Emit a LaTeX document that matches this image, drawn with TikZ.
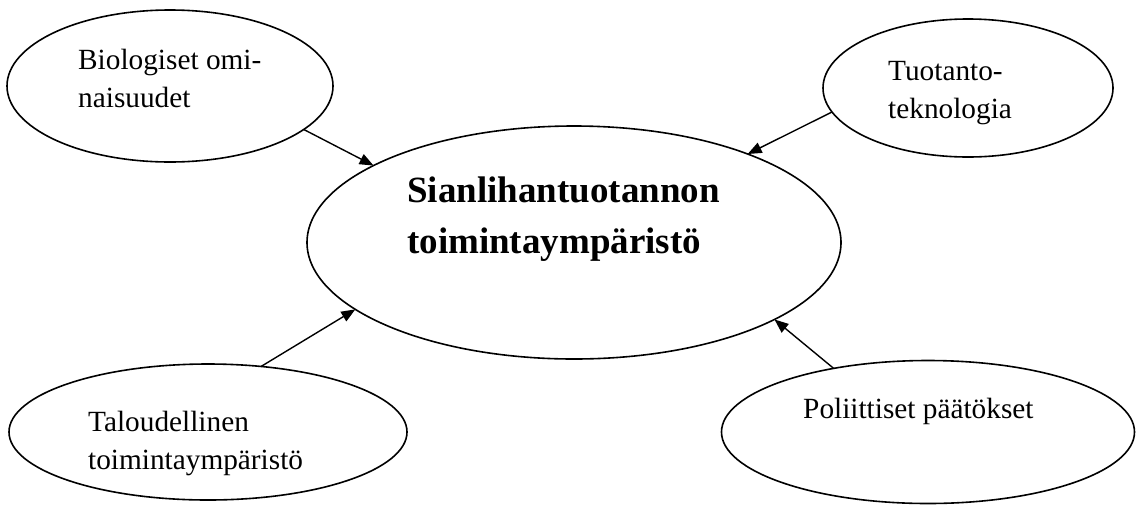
\documentclass[tikz,border=0pt]{standalone}
\usepackage{fontspec}
\setmainfont{Liberation Serif}
\usetikzlibrary{shapes.geometric,arrows.meta}
\begin{document}
\begin{tikzpicture}[x=1pt,y=-1pt,
  oval/.style={draw,line width=1.6pt,ellipse,inner sep=0pt,outer sep=0pt},
  lbl/.style={anchor=base west,align=left,inner sep=0pt,font=\fontsize{29.3}{38}\selectfont},
  title/.style={anchor=base west,align=left,inner sep=0pt,font=\fontsize{37}{51}\selectfont\bfseries},
  arr/.style={line width=1.4pt,-{Triangle[length=14pt,width=11pt]}}]
\useasboundingbox (0,0) rectangle (1137,504);
% ellipses
\node[oval,minimum width=326pt,minimum height=152pt] (bio) at (170,86) {};
\node[oval,minimum width=290pt,minimum height=138pt] (tek) at (968,88) {};
\node[oval,minimum width=534pt,minimum height=233pt] (main) at (574,242.5) {};
\node[oval,minimum width=398pt,minimum height=136pt] (tal) at (208,432) {};
\node[oval,minimum width=413pt,minimum height=143pt] (pol) at (928,432) {};
% texts (base anchor = baseline of the last line)
\node[lbl] (biot) at (78,107) {Biologiset omi-\\naisuudet};
\node[lbl] (tekt) at (888,118) {Tuotanto-\\teknologia};
\node[title] (maint) at (407,253) {Sianlihantuotannon\\toimintaympäristö};
\node[lbl] (talt) at (88,469) {Taloudellinen\\toimintaympäristö};
\node[lbl] (polt) at (803,418) {Poliittiset päätökset};
% arrows
\draw[arr] (bio.-18.7) -- (main.159.8);
\draw[arr] (tek.190.5) -- (main.27.6);
\draw[arr] (tal.51.6) -- (main.197.6);
\draw[arr] (pol.146.5) -- (main.-21.95);
\end{tikzpicture}
\end{document}
